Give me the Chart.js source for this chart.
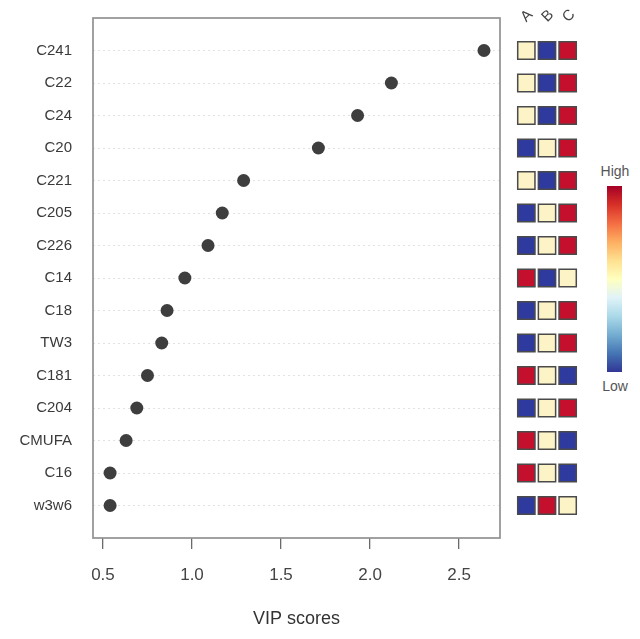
<!DOCTYPE html>
<html>
<head>
<meta charset="utf-8">
<script src="https://cdn.jsdelivr.net/npm/chart.js@4/dist/chart.umd.min.js"></script>
<style>
  html, body { margin: 0; padding: 0; background: #fff; }
  #wrap { position: relative; width: 640px; height: 639px; overflow: hidden; font-family: "Liberation Sans", Arial, sans-serif; }
  canvas { position: absolute; top: 0; }
  .lbl { position: absolute; color: #555; font-size: 14px; transform: translate(-50%, -50%); white-space: nowrap; }
  .grp { position: absolute; color: #444; font-size: 15px; transform: translate(-50%, -50%) rotate(-45deg); white-space: nowrap; }
  #cbar { position: absolute; left: 607px; top: 186px; width: 15px; height: 186px;
    background: linear-gradient(to bottom, #a50026, #d73027, #f46d43, #fdae61, #fee090, #ffffbf, #e0f3f8, #abd9e9, #74add1, #4575b4, #313695); }
</style>
</head>
<body>
<div id="wrap">
  <canvas id="dots" width="512" height="639" style="left:0px"></canvas>
  <canvas id="heat" width="85" height="639" style="left:505px"></canvas>
  <div id="cbar"></div>
  <div class="lbl" style="left:615px; top:171px;">High</div>
  <div class="lbl" style="left:615px; top:386px;">Low</div>
</div>
<script>
// ---- data ----
const features = ["C241","C22","C24","C20","C221","C205","C226","C14","C18","TW3","C181","C204","CMUFA","C16","w3w6"];
const vipScores = [2.64, 2.12, 1.93, 1.71, 1.29, 1.17, 1.09, 0.96, 0.86, 0.83, 0.75, 0.69, 0.63, 0.54, 0.54];
const groups = ["A", "B", "C"];
// relative level per group: 1 = high, 0 = middle, -1 = low
const levelA = [0, 0, 0, -1, 0, -1, -1, 1, -1, -1, 1, -1, 1, 1, -1];
const levelB = [-1, -1, -1, 0, -1, 0, 0, -1, 0, 0, 0, 0, 0, 0, 1];
const levelC = [1, 1, 1, 1, 1, 1, 1, 0, 1, 1, -1, 1, -1, -1, 0];
const xTickValues = [0.5, 1.0, 1.5, 2.0, 2.5];
const colorHigh = "#c4102c";
const colorMid = "#fcf4c6";
const colorLow = "#2f3a9f";

const levelColor = v => v > 0 ? colorHigh : (v < 0 ? colorLow : colorMid);
const nRows = features.length;

const boxPlugin = {
  id: "box",
  afterDraw(chart) {
    const a = chart.chartArea, c = chart.ctx;
    c.save();
    c.strokeStyle = "#919191";
    c.lineWidth = 1.7;
    c.strokeRect(a.left, a.top, a.right - a.left, a.bottom - a.top);
    c.restore();
  }
};

const noPad = s => { s.paddingTop = 0; s.paddingBottom = 0; s.paddingLeft = 0; s.paddingRight = 0; };

const dotChart = new Chart(document.getElementById("dots"), {
  type: "scatter",
  data: {
    datasets: [{
      data: vipScores.map((v, i) => ({ x: v, y: i + 1 })),
      backgroundColor: "#3e3e3e",
      borderColor: "#3e3e3e",
      borderWidth: 0,
      pointRadius: 6.5,
      pointHoverRadius: 6.5
    }]
  },
  options: {
    responsive: false,
    animation: false,
    devicePixelRatio: 1,
    layout: { autoPadding: false, padding: { top: 18, right: 12, left: 0, bottom: 0 } },
    plugins: { legend: { display: false }, tooltip: { enabled: false } },
    scales: {
      x: {
        type: "linear",
        min: 0.444,
        max: 2.73,
        afterBuildTicks: s => { s.ticks = xTickValues.map(v => ({ value: v })); },
        afterFit: s => { s.height = 101; noPad(s); },
        border: { display: false },
        grid: { drawOnChartArea: false, drawTicks: true, tickLength: 11, color: "#6a6a6a", lineWidth: 1.3 },
        ticks: {
          callback: v => Number(v).toFixed(1),
          font: { family: "'Liberation Sans', Arial, sans-serif", size: 17 },
          color: "#444",
          padding: 16,
          maxRotation: 0
        },
        title: {
          display: true,
          text: "VIP scores",
          font: { family: "'Liberation Sans', Arial, sans-serif", size: 18 },
          color: "#333",
          padding: { top: 9, bottom: 9 }
        }
      },
      y: {
        type: "linear",
        reverse: true,
        min: 0,
        max: nRows + 1,
        afterBuildTicks: s => {
          const t = [];
          for (let i = 0; i <= nRows + 1; i++) t.push({ value: i });
          s.ticks = t;
        },
        afterFit: s => { s.width = 93; noPad(s); },
        border: { display: false, dash: [2, 3] },
        grid: {
          drawTicks: false,
          lineWidth: 1,
          color: ctx => (ctx.tick && ctx.tick.value >= 1 && ctx.tick.value <= nRows) ? "#e2e2e2" : "rgba(0,0,0,0)"
        },
        ticks: {
          autoSkip: false,
          callback: v => (v >= 1 && v <= nRows) ? features[v - 1] : "",
          font: { family: "'Liberation Sans', Arial, sans-serif", size: 15 },
          color: "#3a3a3a",
          padding: 21
        }
      }
    }
  },
  plugins: [boxPlugin]
});

const levels = [levelA, levelB, levelC];
const heatPoints = [];
const heatColors = [];
for (let i = 0; i < nRows; i++) {
  for (let j = 0; j < groups.length; j++) {
    heatPoints.push({ x: j + 1, y: i + 1 });
    heatColors.push(levelColor(levels[j][i]));
  }
}

const heatChart = new Chart(document.getElementById("heat"), {
  type: "scatter",
  data: {
    datasets: [{
      data: heatPoints,
      pointStyle: "rect",
      pointRadius: 12.2,
      pointHoverRadius: 12.2,
      backgroundColor: heatColors,
      borderColor: "#4a4a4a",
      borderWidth: 1.5
    }]
  },
  options: {
    responsive: false,
    animation: false,
    devicePixelRatio: 1,
    layout: { autoPadding: false, padding: { top: 18, bottom: 101, left: 11, right: 12 } },
    plugins: { legend: { display: false }, tooltip: { enabled: false } },
    scales: {
      x: { type: "linear", display: false, min: 0.5, max: groups.length + 0.5 },
      y: { type: "linear", display: false, reverse: true, min: 0, max: nRows + 1 }
    }
  }
});

// group labels above the heatmap columns, positioned from the heatmap's x scale
const wrap = document.getElementById("wrap");
groups.forEach((g, j) => {
  const el = document.createElement("div");
  el.className = "grp";
  el.textContent = g;
  el.style.left = (505 + heatChart.scales.x.getPixelForValue(j + 1)) + "px";
  el.style.top = "15px";
  wrap.appendChild(el);
});
</script>
</body>
</html>
